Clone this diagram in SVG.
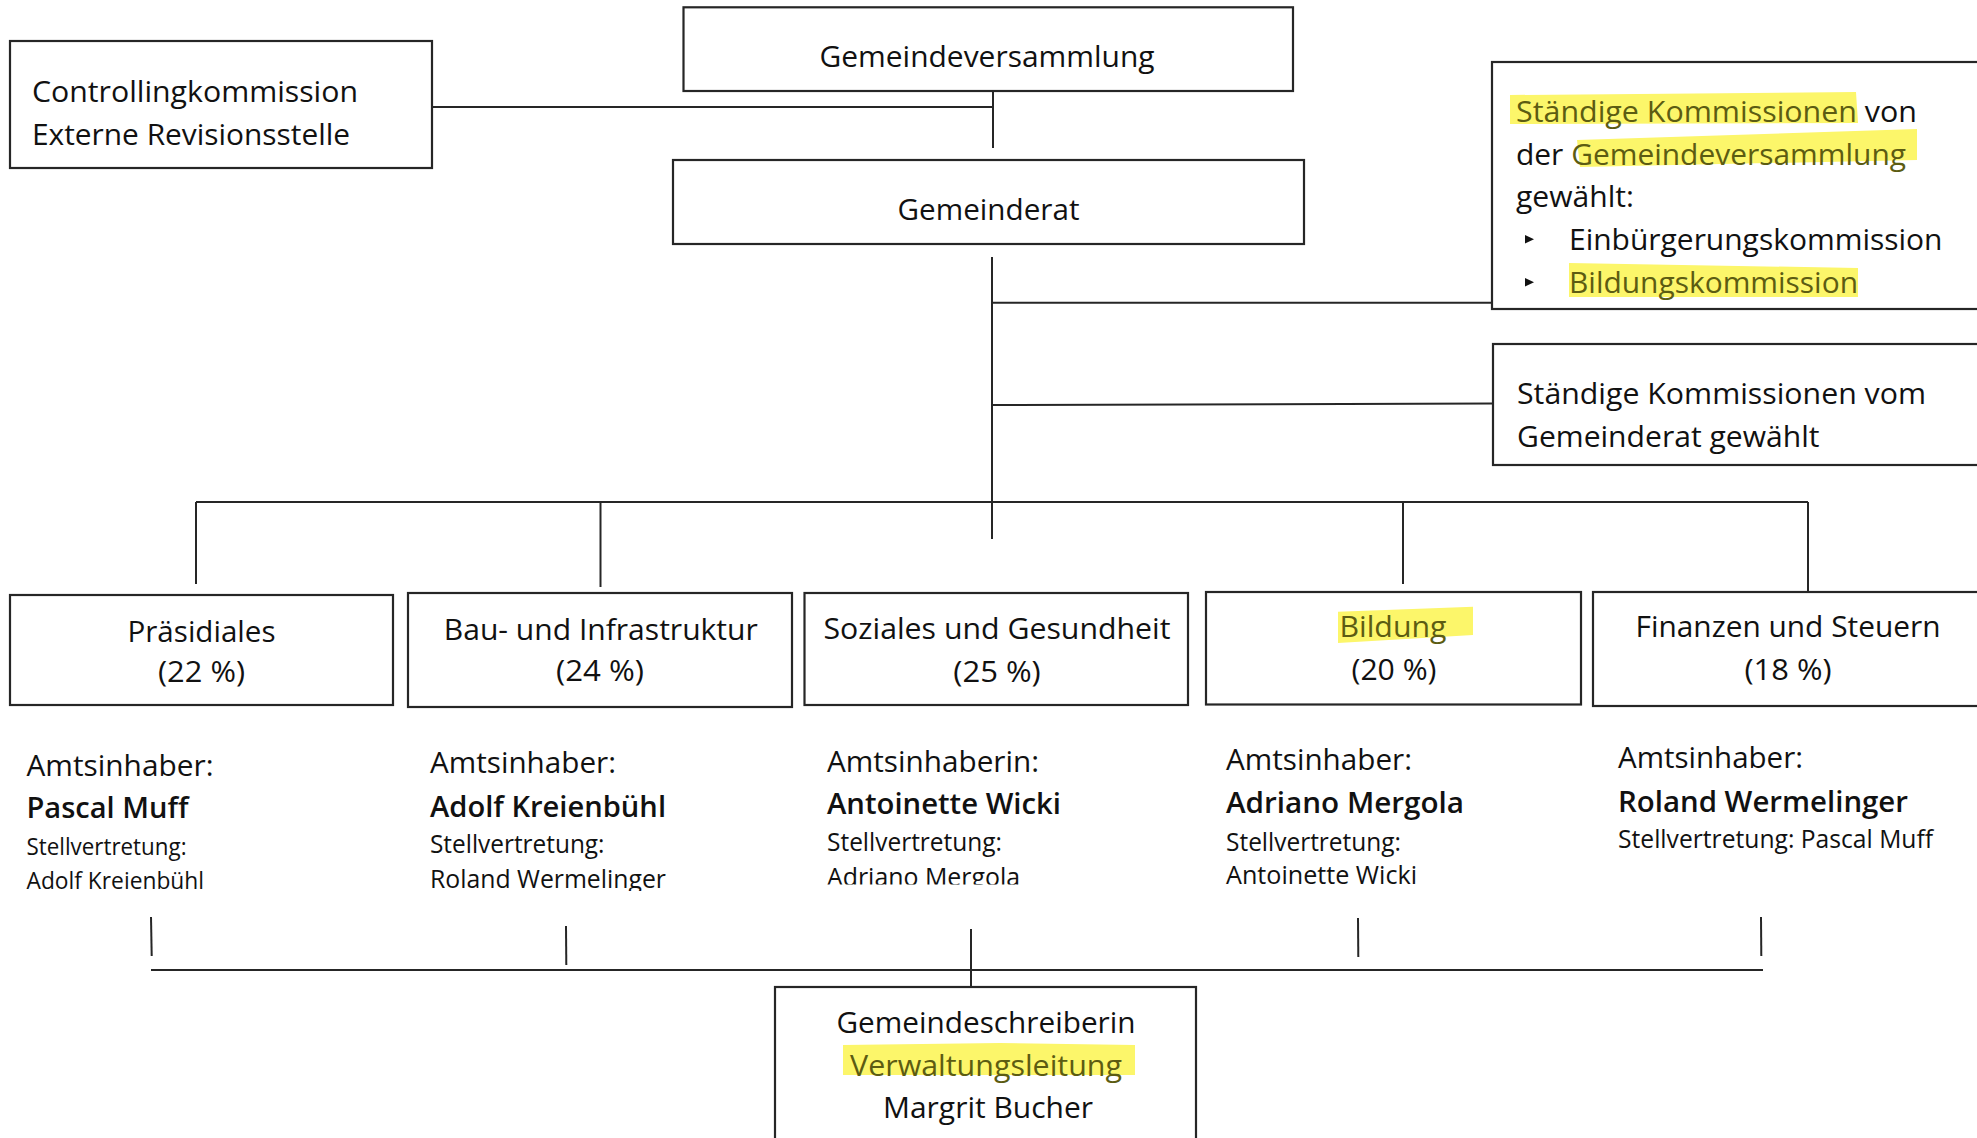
<svg xmlns="http://www.w3.org/2000/svg" width="1977" height="1138" viewBox="0 0 1977 1138">
<style>
.bx{fill:#fff;stroke:#262626;stroke-width:2.2}
.ln{fill:none;stroke:#262626;stroke-width:2}
text{font-family:"Open Sans","Noto Sans","Liberation Sans",sans-serif;fill:#111}
.t30{font-size:30px}
.t28b{font-size:28px;font-weight:600}
.t25{font-size:25px}
.t23{font-size:23px}
.c{text-anchor:middle}
.hl{fill:#fcf66a}
.hlt{fill:#5c5c12}
</style>
<defs>
<clipPath id="clipA"><rect x="0" y="700" width="800" height="191"/></clipPath>
<clipPath id="clipB"><rect x="800" y="700" width="800" height="184.5"/></clipPath>
</defs>
<rect width="1977" height="1138" fill="#fff"/>

<g id="connectors">
<path class="ln" d="M432,107 H993"/>
<path class="ln" d="M993,91 V148"/>
<path class="ln" d="M992,257 V539"/>
<path class="ln" d="M992,302.7 H1492"/>
<path class="ln" d="M992,405 L1493,403.5"/>
<path class="ln" d="M196,502 H1808"/>
<path class="ln" d="M196,502 V584"/>
<path class="ln" d="M600.5,502 V587"/>
<path class="ln" d="M1403,502 V584"/>
<path class="ln" d="M1808,502 V592"/>
<path class="ln" d="M151,917 L151.7,956"/>
<path class="ln" d="M566,926 L566.3,965"/>
<path class="ln" d="M971,929 V987"/>
<path class="ln" d="M1358,918 L1358.3,957"/>
<path class="ln" d="M1761,917 L1761.3,956"/>
<path class="ln" d="M151,970 H1763"/>
</g>

<g id="controlling">
<rect class="bx" x="10" y="41" width="422" height="127"/>
<text class="t30" x="32" y="102" textLength="326" lengthAdjust="spacingAndGlyphs">Controllingkommission</text>
<text class="t30" x="32" y="145" textLength="318" lengthAdjust="spacingAndGlyphs">Externe Revisionsstelle</text>
</g>

<g id="gemeindeversammlung">
<rect class="bx" x="683.5" y="7.3" width="609.5" height="83.7"/>
<text class="t30 c" x="987" y="67" textLength="335" lengthAdjust="spacingAndGlyphs">Gemeindeversammlung</text>
</g>

<g id="gemeinderat">
<rect class="bx" x="673" y="160" width="631" height="84"/>
<text class="t30 c" x="988.5" y="220" textLength="182" lengthAdjust="spacingAndGlyphs">Gemeinderat</text>
</g>

<g id="kommissionen-gv">
<rect class="bx" x="1492" y="62" width="500" height="247"/>
<path class="hl" d="M1510,95 L1856,92 L1858,123 L1510,124 Z"/>
<path class="hl" d="M1577,140 L1917,129 L1917,160 L1580,167 Z"/>
<path class="hl" d="M1569,263 L1858,268 L1858,297 L1569,297 Z"/>
<text class="t30" x="1516" y="121.7" textLength="401" lengthAdjust="spacingAndGlyphs"><tspan class="hlt">Ständige Kommissionen</tspan> von</text>
<text class="t30" x="1516" y="165" textLength="390" lengthAdjust="spacingAndGlyphs">der <tspan class="hlt">Gemeindeversammlung</tspan></text>
<text class="t30" x="1516" y="206.7" textLength="118" lengthAdjust="spacingAndGlyphs">gewählt:</text>
<polygon points="1525,235 1534,239.3 1525,243.5" fill="#111"/>
<text class="t30" x="1569" y="250" textLength="373.5" lengthAdjust="spacingAndGlyphs">Einbürgerungskommission</text>
<polygon points="1525,278 1534,282.3 1525,286.5" fill="#111"/>
<text class="t30 hlt" x="1569" y="293.3" textLength="289" lengthAdjust="spacingAndGlyphs">Bildungskommission</text>
</g>

<g id="kommissionen-gr">
<rect class="bx" x="1493" y="344" width="500" height="121"/>
<text class="t30" x="1517" y="404" textLength="409" lengthAdjust="spacingAndGlyphs">Ständige Kommissionen vom</text>
<text class="t30" x="1517" y="447.3" textLength="302.5" lengthAdjust="spacingAndGlyphs">Gemeinderat gewählt</text>
</g>

<g id="praesidiales">
<rect class="bx" x="10" y="595" width="383" height="110"/>
<text class="t30 c" x="201.5" y="641.7" textLength="148" lengthAdjust="spacingAndGlyphs">Präsidiales</text>
<text class="t30 c" x="201.5" y="681.7" textLength="87" lengthAdjust="spacingAndGlyphs">(22 %)</text>
<text class="t30" x="26.5" y="776" textLength="187" lengthAdjust="spacingAndGlyphs">Amtsinhaber:</text>
<text class="t28b" x="26.5" y="818.3" textLength="162" lengthAdjust="spacingAndGlyphs">Pascal Muff</text>
<text class="t23" x="26.5" y="855" textLength="160" lengthAdjust="spacingAndGlyphs">Stellvertretung:</text>
<text class="t23" x="26.5" y="889" textLength="177.5" lengthAdjust="spacingAndGlyphs" clip-path="url(#clipA)">Adolf Kreienbühl</text>
</g>

<g id="bau">
<rect class="bx" x="408" y="593" width="384" height="114"/>
<text class="t30 c" x="600.8" y="640" textLength="314" lengthAdjust="spacingAndGlyphs">Bau- und Infrastruktur</text>
<text class="t30 c" x="600" y="680.5" textLength="88" lengthAdjust="spacingAndGlyphs">(24 %)</text>
<text class="t30" x="430" y="773.3" textLength="186" lengthAdjust="spacingAndGlyphs">Amtsinhaber:</text>
<text class="t28b" x="430" y="816.7" textLength="236" lengthAdjust="spacingAndGlyphs">Adolf Kreienbühl</text>
<text class="t25" x="430" y="853" textLength="174.5" lengthAdjust="spacingAndGlyphs">Stellvertretung:</text>
<text class="t25" x="430" y="888" textLength="236" lengthAdjust="spacingAndGlyphs" clip-path="url(#clipA)">Roland Wermelinger</text>
</g>

<g id="soziales">
<rect class="bx" x="804.5" y="593" width="383.5" height="112"/>
<text class="t30 c" x="997" y="639.3" textLength="347" lengthAdjust="spacingAndGlyphs">Soziales und Gesundheit</text>
<text class="t30 c" x="997" y="681.7" textLength="87.5" lengthAdjust="spacingAndGlyphs">(25 %)</text>
<text class="t30" x="827" y="771.7" textLength="212" lengthAdjust="spacingAndGlyphs">Amtsinhaberin:</text>
<text class="t28b" x="827" y="814.3" textLength="234" lengthAdjust="spacingAndGlyphs">Antoinette Wicki</text>
<text class="t25" x="827" y="851" textLength="175" lengthAdjust="spacingAndGlyphs">Stellvertretung:</text>
<text class="t25" x="827" y="886" textLength="193" lengthAdjust="spacingAndGlyphs" clip-path="url(#clipB)">Adriano Mergola</text>
</g>

<g id="bildung">
<rect class="bx" x="1206" y="592" width="375" height="112.5"/>
<path class="hl" d="M1338,611.7 L1473,606.7 L1473,635 L1338,643 Z"/>
<text class="t30 c hlt" x="1393" y="636.7" textLength="107" lengthAdjust="spacingAndGlyphs">Bildung</text>
<text class="t30 c" x="1394" y="680" textLength="85" lengthAdjust="spacingAndGlyphs">(20 %)</text>
<text class="t30" x="1226" y="770" textLength="186" lengthAdjust="spacingAndGlyphs">Amtsinhaber:</text>
<text class="t28b" x="1226" y="813.3" textLength="238" lengthAdjust="spacingAndGlyphs">Adriano Mergola</text>
<text class="t25" x="1226" y="851" textLength="175" lengthAdjust="spacingAndGlyphs">Stellvertretung:</text>
<text class="t25" x="1226" y="884" textLength="191" lengthAdjust="spacingAndGlyphs" clip-path="url(#clipB)">Antoinette Wicki</text>
</g>

<g id="finanzen">
<rect class="bx" x="1593" y="592" width="400" height="114"/>
<text class="t30 c" x="1788" y="636.7" textLength="305" lengthAdjust="spacingAndGlyphs">Finanzen und Steuern</text>
<text class="t30 c" x="1788" y="680" textLength="87" lengthAdjust="spacingAndGlyphs">(18 %)</text>
<text class="t30" x="1618" y="768.3" textLength="185" lengthAdjust="spacingAndGlyphs">Amtsinhaber:</text>
<text class="t28b" x="1618" y="811.7" textLength="290" lengthAdjust="spacingAndGlyphs">Roland Wermelinger</text>
<text class="t25" x="1618" y="848" textLength="315" lengthAdjust="spacingAndGlyphs">Stellvertretung: Pascal Muff</text>
</g>

<g id="gemeindeschreiberin">
<rect class="bx" x="775" y="987" width="421" height="170"/>
<path class="hl" d="M843,1045 L1000,1043 L1135,1045 L1135,1075 L843,1075 Z"/>
<text class="t30 c" x="986" y="1032.7" textLength="299" lengthAdjust="spacingAndGlyphs">Gemeindeschreiberin</text>
<text class="t30 c hlt" x="986" y="1075.5" textLength="272" lengthAdjust="spacingAndGlyphs">Verwaltungsleitung</text>
<text class="t30 c" x="988" y="1117.5" textLength="210" lengthAdjust="spacingAndGlyphs">Margrit Bucher</text>
</g>
</svg>
